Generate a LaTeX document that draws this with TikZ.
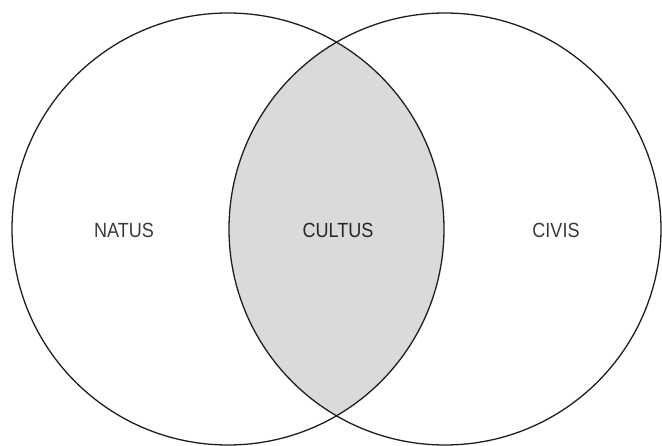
\documentclass[tikz,border=0pt]{standalone}
\usepackage{fontspec}
\setmainfont{Liberation Sans}
\definecolor{lensgray}{HTML}{D9DADA}
\definecolor{linegray}{HTML}{1E1E1E}
\definecolor{labelgray}{HTML}{3A3A3A}
\tikzset{
  ring/.style={draw=linegray, line width=1.3pt},
  lbl/.style={font=\fontsize{20.5}{24}\selectfont, text=labelgray, xscale=0.88, inner sep=0pt},
  lblmain/.style={lbl, text=black!85}
}
\begin{document}
\begin{tikzpicture}[x=1pt,y=1pt]
\useasboundingbox (0,0) rectangle (662,445);
\coordinate (cl) at (228,216);
\coordinate (cr) at (445,216);
\begin{scope}
  \clip (cl) circle (216);
  \fill[lensgray] (cr) circle (216);
\end{scope}
\draw[ring] (cl) circle (216);
\draw[ring] (cr) circle (216);
\node[lbl] (natus) at (124,215) {NATUS};
\node[lblmain] (cultus) at (338,215) {CULTUS};
\node[lbl] (civis) at (556,215) {CIVIS};
\end{tikzpicture}
\end{document}
